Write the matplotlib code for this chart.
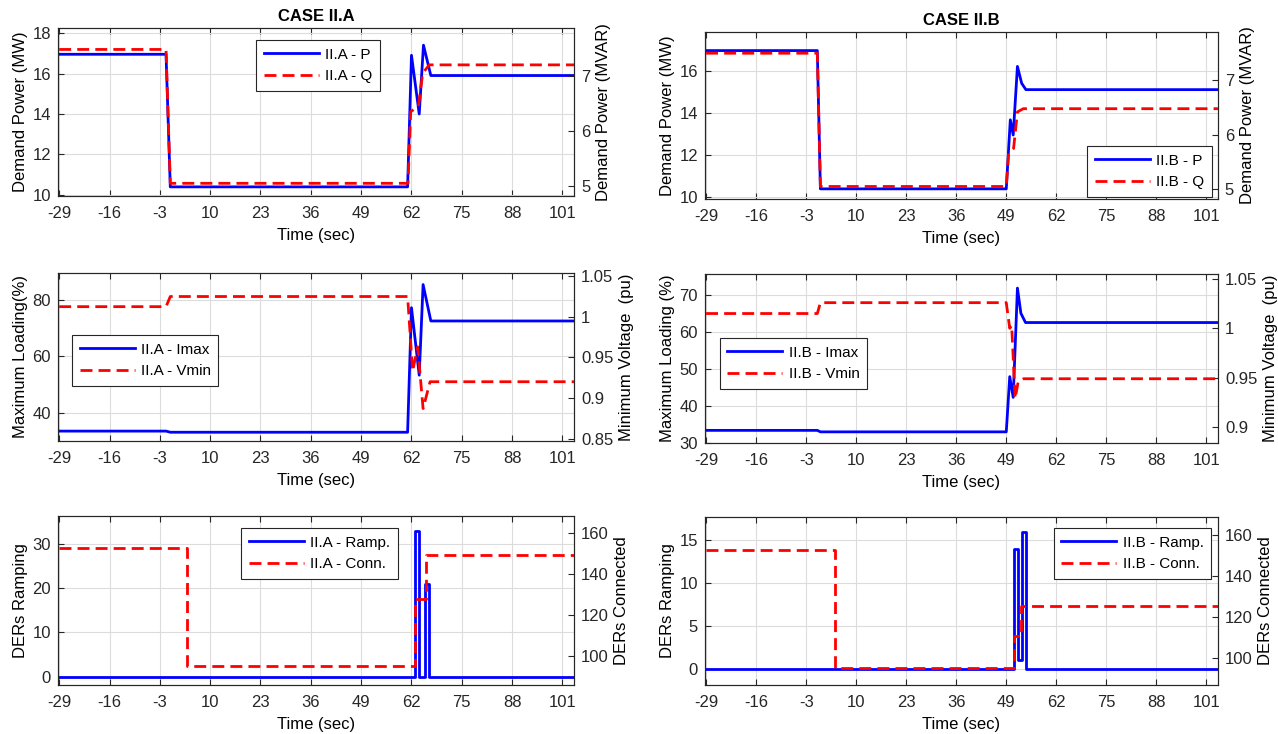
import matplotlib.pyplot as plt
from matplotlib.ticker import FormatStrFormatter

plt.rcParams['font.family'] = ['Liberation Sans', 'DejaVu Sans']
plt.rcParams['font.size'] = 12
plt.rcParams['axes.unicode_minus'] = False

time_ticks = list(range(-29, 102, 13))
t_end = 104

# ---- CASE II.A ----
a_p_t = [-29, -1.4, -0.3, 61.0, 62.0, 64.0, 65.1, 67.0, t_end]
a_p = [16.95, 16.95, 10.4, 10.4, 16.9, 14.0, 17.4, 15.9, 15.9]
a_q_t = [-29, -1.4, -0.3, 61.1, 61.8, 63.8, 64.9, 66.6, t_end]
a_q = [7.48, 7.48, 5.05, 5.05, 6.35, 6.45, 7.05, 7.2, 7.2]

a_imax_t = [-29, -1.4, -0.3, 61.0, 62.0, 64.0, 65.0, 67.0, t_end]
a_imax = [33.5, 33.5, 33.1, 33.1, 77.2, 53.3, 85.4, 72.5, 72.5]
a_vmin_t = [-29, -1.4, -0.3, 61.0, 62.3, 63.6, 65.0, 66.8, t_end]
a_vmin = [1.0125, 1.0125, 1.025, 1.025, 0.933, 0.963, 0.887, 0.92, 0.92]

a_ramp_t = [-29, 62.9, 63.9, 65.6, 66.6, t_end]
a_ramp = [0, 33, 0, 21, 0, 0]
a_conn_t = [-29, 3.9, 62.9, 65.8, t_end]
a_conn = [153, 95.3, 128, 149.4, 149.4]

# ---- CASE II.B ----
b_p_t = [-29, -0.1, 0.7, 49.0, 50.05, 50.8, 51.9, 53.0, 54.1, t_end]
b_p = [16.95, 16.95, 10.4, 10.4, 13.67, 12.95, 16.2, 15.4, 15.1, 15.1]
b_q_t = [-29, -0.1, 0.7, 49.0, 49.6, 50.9, 51.2, 51.9, 53.4, t_end]
b_q = [7.5, 7.5, 5.05, 5.05, 5.65, 5.75, 5.95, 6.42, 6.48, 6.48]

b_imax_t = [-29, -0.1, 0.7, 49.0, 49.9, 50.8, 51.9, 52.8, 54.0, t_end]
b_imax = [33.4, 33.4, 33.0, 33.0, 47.9, 42.3, 71.8, 65.0, 62.5, 62.5]
b_vmin_t = [-29, -0.1, 0.7, 49.0, 49.9, 50.4, 51.3, 52.1, 53.5, t_end]
b_vmin = [1.015, 1.015, 1.026, 1.026, 1.0, 1.003, 0.929, 0.946, 0.949, 0.949]

b_ramp_t = [-29, 51.1, 52.1, 53.1, 54.1, t_end]
b_ramp = [0, 14, 1, 16, 0, 0]
b_conn_t = [-29, 4.5, 51.1, 52.9, t_end]
b_conn = [153, 95.5, 111, 125.5, 125.5]

frame = '#262626'
dash = (0, (4.3, 2.2))


def panel(fig, rect, t1, y1, t2, y2, ylim1, yticks1, ylim2, yticks2,
          ylabel1, ylabel2, labels, anchor, steps=False, title=None):
    ax = fig.add_axes(rect)
    ax2 = ax.twinx()
    ds = 'steps-post' if steps else 'default'
    l1, = ax.plot(t1, y1, color='#0000ff', lw=2, drawstyle=ds)
    l2, = ax2.plot(t2, y2, color='#ff0000', lw=2, ls=dash, drawstyle=ds)

    ax.set_xlim(-29.3, t_end)
    ax.set_xticks(time_ticks)
    ax.set_ylim(*ylim1)
    ax.set_yticks(yticks1)
    ax2.set_ylim(*ylim2)
    ax2.set_yticks(yticks2)
    ax2.yaxis.set_major_formatter(FormatStrFormatter('%g'))
    ax.grid(True, color='#dcdcdc', lw=0.8)
    ax.set_axisbelow(True)

    ax.set_xlabel('Time (sec)', labelpad=5)
    ax.set_ylabel(ylabel1, labelpad=3)
    ax2.set_ylabel(ylabel2, labelpad=4)

    for a in (ax, ax2):
        for s in a.spines.values():
            s.set_color(frame)
            s.set_linewidth(0.8)
        a.tick_params(direction='in', length=4, color=frame, labelcolor='#262626')
    ax.tick_params(top=True)
    ax.tick_params(axis='x', pad=7)
    ax.tick_params(axis='y', pad=5)
    ax2.tick_params(axis='y', pad=5)

    leg = ax2.legend([l1, l2], labels, loc='upper left', bbox_to_anchor=anchor,
                     frameon=True, fancybox=False, edgecolor=frame, framealpha=1,
                     borderaxespad=0, handlelength=3.6, handletextpad=0.4,
                     borderpad=0.5, labelspacing=0.5, fontsize=11)
    leg.get_frame().set_linewidth(0.8)

    if title:
        ax.set_title(title, fontweight='bold', fontsize=12, pad=5)
    return ax, ax2


fig = plt.figure(figsize=(12.78, 7.34), dpi=100)

# left column - CASE II.A
panel(fig, [0.0454, 0.733, 0.4038, 0.2289], a_p_t, a_p, a_q_t, a_q,
      (9.95, 18.25), [10, 12, 14, 16, 18], (4.82, 7.87), [5, 6, 7],
      'Demand Power (MW)', 'Demand Power (MVAR)',
      ['II.A - P', 'II.A - Q'], (0.384, 0.929), title='CASE II.A')
panel(fig, [0.0454, 0.3992, 0.4038, 0.2289], a_imax_t, a_imax, a_vmin_t, a_vmin,
      (30, 89.5), [40, 60, 80], (0.847, 1.054), [0.85, 0.9, 0.95, 1, 1.05],
      'Maximum Loading(%)', 'Minimum Voltage  (pu)',
      ['II.A - Imax', 'II.A - Vmin'], (0.027, 0.631))
panel(fig, [0.0454, 0.0668, 0.4038, 0.2302], a_ramp_t, a_ramp, a_conn_t, a_conn,
      (-1.9, 36.4), [0, 10, 20, 30], (85.8, 168.5), [100, 120, 140, 160],
      'DERs Ramping', 'DERs Connected',
      ['II.A - Ramp.', 'II.A - Conn.'], (0.355, 0.929), steps=True)

# right column - CASE II.B
panel(fig, [0.5516, 0.7289, 0.4014, 0.2275], b_p_t, b_p, b_q_t, b_q,
      (9.92, 17.83), [10, 12, 14, 16], (4.82, 7.89), [5, 6, 7],
      'Demand Power (MW)', 'Demand Power (MVAR)',
      ['II.B - P', 'II.B - Q'], (0.745, 0.317), title='CASE II.B')
panel(fig, [0.5516, 0.3965, 0.4014, 0.2302], b_imax_t, b_imax, b_vmin_t, b_vmin,
      (30, 75.6), [30, 40, 50, 60, 70], (0.884, 1.055), [0.9, 0.95, 1, 1.05],
      'Maximum Loading (%)', 'Minimum Voltage  (pu)',
      ['II.B - Imax', 'II.B - Vmin'], (0.029, 0.621))
panel(fig, [0.5516, 0.0668, 0.4014, 0.2289], b_ramp_t, b_ramp, b_conn_t, b_conn,
      (-1.9, 17.7), [0, 5, 10, 15], (87, 169), [100, 120, 140, 160],
      'DERs Ramping', 'DERs Connected',
      ['II.B - Ramp.', 'II.B - Conn.'], (0.680, 0.935), steps=True)

fig.savefig('out.png', dpi=100)
